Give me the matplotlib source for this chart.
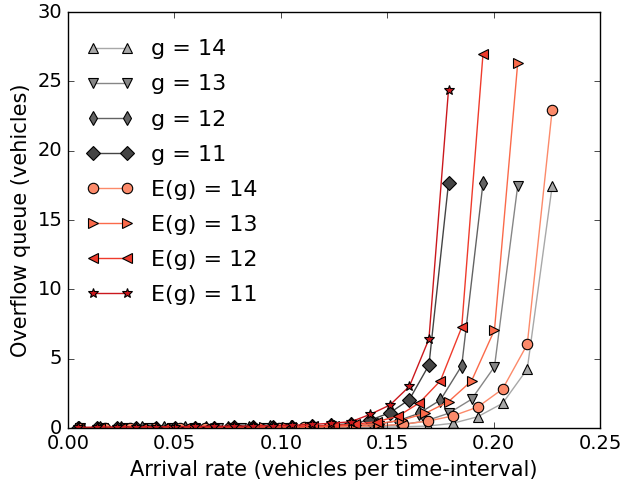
import numpy as np
import matplotlib
matplotlib.use('Agg')
import matplotlib.pyplot as plt
plt.style.use('classic')

# arrival rates for each green time (same rates used for g and E(g))
rate_14 = [0.0058, 0.0175, 0.0292, 0.0408, 0.0525, 0.0642, 0.0758, 0.0875, 0.0992, 0.1108,
           0.1225, 0.1342, 0.1458, 0.1575, 0.1692, 0.1808, 0.1925, 0.2042, 0.2158, 0.2275]
rate_13 = [0.0054, 0.0163, 0.0271, 0.0379, 0.0488, 0.0596, 0.0704, 0.0813, 0.0921, 0.1029,
           0.1138, 0.1246, 0.1354, 0.1463, 0.1571, 0.1679, 0.1788, 0.1896, 0.2004, 0.2113]
rate_12 = [0.005, 0.015, 0.025, 0.035, 0.045, 0.055, 0.065, 0.075, 0.085, 0.095,
           0.105, 0.115, 0.125, 0.135, 0.145, 0.155, 0.165, 0.175, 0.185, 0.195]
rate_11 = [0.0046, 0.0138, 0.0229, 0.0321, 0.0413, 0.0504, 0.0596, 0.0688, 0.0779, 0.0871,
           0.0963, 0.1054, 0.1146, 0.1238, 0.1329, 0.1421, 0.1513, 0.1604, 0.1696, 0.1788]

# overflow queue, fixed green time g
q_g14 = [0.0, 0.0, 0.0, 0.0, 0.0, 0.01, 0.01, 0.01, 0.02, 0.02,
         0.03, 0.04, 0.06, 0.09, 0.14, 0.34, 0.81, 1.78, 4.25, 17.45]
q_g13 = [0.0, 0.0, 0.0, 0.0, 0.01, 0.01, 0.01, 0.02, 0.02, 0.03,
         0.04, 0.05, 0.08, 0.13, 0.25, 0.5, 1.06, 2.07, 4.42, 17.45]
q_g12 = [0.0, 0.0, 0.0, 0.01, 0.01, 0.01, 0.02, 0.02, 0.03, 0.04,
         0.05, 0.07, 0.1, 0.15, 0.27, 0.52, 1.06, 2.02, 4.49, 17.66]
q_g11 = [0.0, 0.0, 0.01, 0.01, 0.01, 0.02, 0.02, 0.03, 0.04, 0.05,
         0.07, 0.09, 0.13, 0.2, 0.32, 0.58, 1.1, 2.05, 4.54, 17.66]

# overflow queue, random green time with mean E(g)
q_e14 = [0.0, 0.0, 0.0, 0.01, 0.01, 0.01, 0.02, 0.02, 0.03, 0.05,
         0.07, 0.1, 0.16, 0.27, 0.5, 0.87, 1.51, 2.81, 6.03, 22.93]
q_e13 = [0.0, 0.0, 0.01, 0.01, 0.01, 0.02, 0.02, 0.03, 0.04, 0.06,
         0.08, 0.12, 0.19, 0.32, 0.58, 1.06, 1.9, 3.39, 7.07, 26.3]
q_e12 = [0.0, 0.0, 0.01, 0.01, 0.02, 0.02, 0.03, 0.04, 0.05, 0.07,
         0.09, 0.13, 0.18, 0.28, 0.45, 0.85, 1.8, 3.41, 7.26, 26.97]
q_e11 = [0.05, 0.06, 0.08, 0.08, 0.09, 0.1, 0.11, 0.12, 0.13, 0.15,
         0.17, 0.2, 0.26, 0.34, 0.45, 0.99, 1.66, 3.0, 6.42, 24.4]

series = [
    (rate_14, q_g14, 'g = 14', '^', '#a8a8a8'),
    (rate_13, q_g13, 'g = 13', 'v', '#868686'),
    (rate_12, q_g12, 'g = 12', 'd', '#636363'),
    (rate_11, q_g11, 'g = 11', 'D', '#444444'),
    (rate_14, q_e14, 'E(g) = 14', 'o', '#fc8a6a'),
    (rate_13, q_e13, 'E(g) = 13', '>', '#fb6a4a'),
    (rate_12, q_e12, 'E(g) = 12', '<', '#ef3b2c'),
    (rate_11, q_e11, 'E(g) = 11', '*', '#cb181d'),
]

fig = plt.figure(figsize=(6.24, 4.84), dpi=100, facecolor='white')
ax = fig.add_axes([0.109, 0.1157, 0.8526, 0.8595])

for x, y, lab, mk, col in series:
    ax.plot(x, y, color=col, marker=mk, markerfacecolor=col, markeredgecolor='black',
            markersize=7.5, markeredgewidth=0.8, linewidth=1, label=lab)

ax.set_xlim(0, 0.25)
ax.set_ylim(0, 30)
ax.set_xticks([0.0, 0.05, 0.10, 0.15, 0.20, 0.25])
ax.set_yticks([0, 5, 10, 15, 20, 25, 30])
ax.tick_params(labelsize=14)
ax.set_xlabel('Arrival rate (vehicles per time-interval)', fontsize=15)
ax.set_ylabel('Overflow queue (vehicles)', fontsize=15)

ax.legend(loc='upper left', bbox_to_anchor=(-0.011, 0.993), frameon=False,
          numpoints=2, fontsize=16, labelspacing=0.68, handlelength=2.1,
          borderaxespad=0.7)

fig.savefig('out.png', dpi=100, facecolor='white')
